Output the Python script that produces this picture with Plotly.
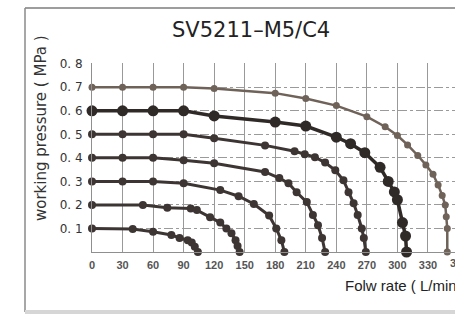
import plotly.graph_objects as go

# ---- data ----
pressures = [0.1, 0.2, 0.3, 0.4, 0.5, 0.6, 0.7]

flow_01 = [0, 40, 60, 78, 86, 94, 98, 101, 104]
pres_01 = [0.1, 0.098, 0.086, 0.072, 0.06, 0.05, 0.04, 0.022, 0.0]

flow_02 = [0, 50, 74, 97, 103, 116, 126, 132, 137, 141, 143, 145]
pres_02 = [0.2, 0.2, 0.188, 0.185, 0.178, 0.148, 0.125, 0.1, 0.08, 0.05, 0.025, 0.0]

flow_03 = [0, 30, 60, 90, 126, 144, 159, 174, 181, 186, 189]
pres_03 = [0.3, 0.3, 0.3, 0.292, 0.263, 0.237, 0.204, 0.155, 0.1, 0.05, 0.0]

flow_04 = [0, 30, 60, 90, 120, 170, 184, 193, 201, 211, 217, 222, 226, 229]
pres_04 = [0.4, 0.4, 0.4, 0.39, 0.377, 0.34, 0.314, 0.292, 0.254, 0.212, 0.157, 0.114, 0.06, 0.0]

flow_05 = [0, 30, 60, 90, 120, 170, 199, 209, 219, 229, 239, 247, 252, 257, 261, 265, 267, 269]
pres_05 = [0.5, 0.5, 0.5, 0.5, 0.483, 0.453, 0.428, 0.415, 0.403, 0.38, 0.347, 0.305, 0.254,
           0.207, 0.157, 0.1, 0.06, 0.0]

flow_06 = [0, 30, 60, 90, 120, 180, 210, 240, 254, 268, 283, 291, 297, 300, 305, 308, 309]
pres_06 = [0.6, 0.6, 0.6, 0.6, 0.578, 0.552, 0.535, 0.488, 0.46, 0.422, 0.36, 0.3, 0.255,
           0.222, 0.125, 0.068, 0.0]

flow_07 = [0, 30, 60, 90, 120, 180, 210, 240, 270, 288, 300, 310, 320, 328, 335, 340, 344,
           347, 348, 349, 349]
pres_07 = [0.7, 0.7, 0.7, 0.7, 0.695, 0.675, 0.652, 0.622, 0.575, 0.532, 0.495, 0.455, 0.41,
           0.37, 0.33, 0.285, 0.24, 0.2, 0.15, 0.1, 0.0]

x_ticks = [0, 30, 60, 90, 120, 150, 180, 210, 240, 270, 300, 330]
y_ticks = [0.1, 0.2, 0.3, 0.4, 0.5, 0.6, 0.7, 0.8]
y_tick_text = ["0. 1", "0. 2", "0. 3", "0. 4", "0. 5", "0. 6", "0. 7", "0. 8"]

title_text = "SV5211\u2013M5/C4"
y_title = "working pressure ( MPa )"
x_title = "Folw rate ( L/min )"

series = [
    (flow_01, pres_01, "#3d3533", 3, 8),
    (flow_02, pres_02, "#3d3533", 3, 8),
    (flow_03, pres_03, "#3d3533", 3, 8),
    (flow_04, pres_04, "#3d3533", 3, 8),
    (flow_05, pres_05, "#3d3533", 3, 8),
    (flow_06, pres_06, "#2f2a28", 3.5, 11),
    (flow_07, pres_07, "#6f6259", 2.5, 7),
]

fig = go.Figure()
for fx, fy, col, lw, ms in series:
    fig.add_trace(go.Scatter(
        x=fx, y=fy, mode="lines+markers",
        line=dict(color=col, width=lw),
        marker=dict(color=col, size=ms),
        showlegend=False, cliponaxis=False,
    ))

W, H = 455, 314
L, R, T, B = 92, 0, 63, 62
pw = W - L - R
ph = H - T - B
px_per_unit = 1.018
xmax = pw / px_per_unit


def px2paper_x(px):
    return (px - L) / pw


def px2paper_y(py):
    return (H - B - py) / ph


tick_font = dict(family="Liberation Sans Narrow, Liberation Sans, Arial", size=11, color="#555555")

fig.update_layout(
    width=W, height=H,
    margin=dict(l=L, r=R, t=T, b=B),
    paper_bgcolor="white", plot_bgcolor="white",
    xaxis=dict(
        range=[0, xmax], tickvals=x_ticks, ticktext=[f"<b>{v}</b>" for v in x_ticks],
        showgrid=True, gridcolor="#999999", gridwidth=1,
        showline=True, linecolor="#8f8f8f", linewidth=1,
        zeroline=False, ticks="", tickfont=tick_font, ticklabelstandoff=3,
        fixedrange=True,
    ),
    yaxis=dict(
        range=[0, 0.803], tickvals=y_ticks, ticktext=y_tick_text,
        showgrid=True, gridcolor="#9a9a9a", gridwidth=1, griddash="dashdot",
        showline=True, linecolor="#8f8f8f", linewidth=1,
        zeroline=False, ticks="", ticklabelstandoff=6,
        tickfont=dict(family="DejaVu Sans", size=12, color="#333333"),
        fixedrange=True,
    ),
    shapes=[
        dict(type="line", xref="paper", yref="paper",
             x0=px2paper_x(25), x1=px2paper_x(470), y0=px2paper_y(8), y1=px2paper_y(8),
             line=dict(color="#7d7d7d", width=1.5)),
        dict(type="line", xref="paper", yref="paper",
             x0=px2paper_x(25), x1=px2paper_x(25), y0=px2paper_y(8), y1=px2paper_y(312),
             line=dict(color="#8a8a8a", width=1.5)),
        dict(type="line", xref="paper", yref="paper",
             x0=px2paper_x(25), x1=px2paper_x(470), y0=px2paper_y(312), y1=px2paper_y(312),
             line=dict(color="#d6d6d6", width=4)),
    ],
    annotations=[
        dict(text=title_text, xref="paper", yref="paper",
             x=px2paper_x(251), y=px2paper_y(30), xanchor="center", yanchor="middle",
             showarrow=False, font=dict(family="DejaVu Sans", size=21, color="#222222")),
        dict(text=y_title, xref="paper", yref="paper", textangle=-90,
             x=px2paper_x(41), y=px2paper_y(128), xanchor="center", yanchor="middle",
             showarrow=False, font=dict(family="DejaVu Sans", size=15, color="#333333")),
        dict(text=x_title, xref="paper", yref="paper",
             x=px2paper_x(343), y=px2paper_y(285), xanchor="left", yanchor="middle",
             showarrow=False, font=dict(family="Liberation Sans, Arial", size=15, color="#222222")),
        dict(text="<b>360</b>", xref="paper", yref="paper",
             x=px2paper_x(458.6), y=px2paper_y(263), xanchor="center", yanchor="middle",
             showarrow=False, font=tick_font),
    ],
)

fig.write_html(
    "out.html",
    config={"displayModeBar": False, "staticPlot": True},
    post_script="document.body.style.margin='0';document.body.style.overflow='hidden';"
                "document.documentElement.style.overflow='hidden';",
)
